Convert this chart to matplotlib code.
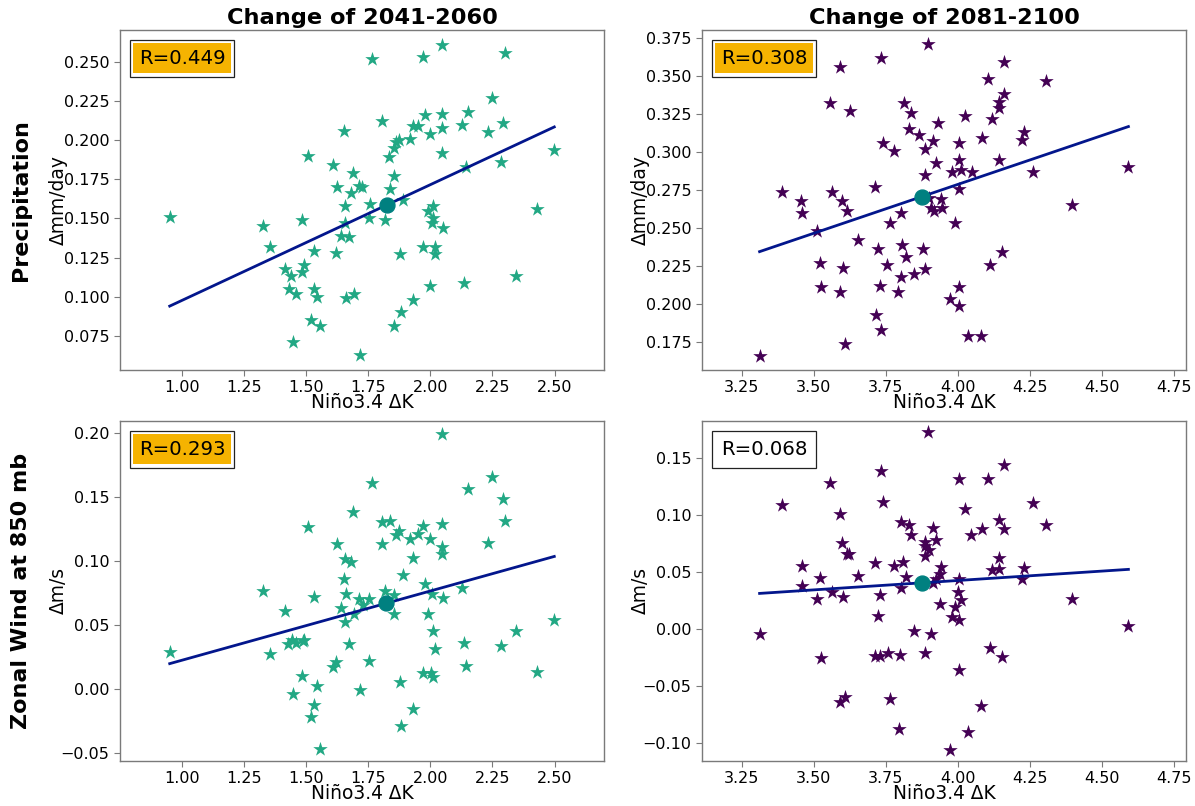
import numpy as np
import matplotlib
matplotlib.use("Agg")
import matplotlib.pyplot as plt
from matplotlib.offsetbox import AnchoredText

# ---- data: Niño3.4 warming vs. regional change, one star per model ----
# Precipitation, 2041-2060
pr_mid_x = [0.952, 1.327, 1.356, 1.417, 1.441, 1.430, 1.458, 1.447, 1.485, 1.494, 1.485, 1.533,
            1.534, 1.545, 1.522, 1.558, 1.510, 1.655, 1.608, 1.691, 1.624, 1.682, 1.715, 1.659,
            1.658, 1.642, 1.675, 1.619, 1.662, 1.694, 1.718, 1.766, 1.972, 2.046, 2.302, 2.248,
            1.806, 1.980, 2.046, 2.150, 2.128, 2.291, 2.232, 1.929, 1.952, 2.046, 1.999, 1.919,
            1.863, 1.876, 1.856, 1.834, 2.046, 2.499, 2.283, 2.144, 1.855, 1.839, 1.726, 1.758,
            1.755, 1.817, 1.892, 2.012, 1.992, 2.012, 2.006, 2.053, 2.429, 1.970, 2.019, 2.019,
            1.879, 2.347, 2.136, 1.999, 1.932, 1.883, 1.853]
pr_mid_y = [0.151, 0.145, 0.132, 0.118, 0.113, 0.105, 0.102, 0.071, 0.149, 0.120, 0.116, 0.129,
            0.105, 0.100, 0.085, 0.081, 0.190, 0.206, 0.184, 0.179, 0.170, 0.166, 0.171, 0.158,
            0.147, 0.139, 0.138, 0.128, 0.099, 0.102, 0.063, 0.252, 0.253, 0.261, 0.256, 0.227,
            0.212, 0.216, 0.217, 0.218, 0.210, 0.211, 0.205, 0.209, 0.209, 0.208, 0.204, 0.201,
            0.199, 0.200, 0.195, 0.189, 0.192, 0.194, 0.186, 0.183, 0.177, 0.169, 0.170, 0.159,
            0.150, 0.149, 0.162, 0.158, 0.155, 0.150, 0.147, 0.144, 0.156, 0.132, 0.132, 0.127,
            0.127, 0.113, 0.109, 0.107, 0.098, 0.090, 0.081]

# Precipitation, 2081-2100
pr_end_x = [3.897, 3.734, 3.590, 3.556, 3.625, 3.812, 3.837, 3.932, 3.830, 3.867, 3.913, 3.740,
            3.779, 3.885, 3.925, 3.885, 3.714, 3.391, 3.562, 3.457, 3.599, 3.458, 3.617, 3.802,
            3.764, 3.899, 3.909, 3.917, 3.942, 3.946, 3.513, 3.653, 3.722, 3.805, 3.880, 3.821,
            3.521, 3.603, 3.756, 3.850, 3.888, 3.802, 3.524, 3.590, 3.729, 3.794, 3.717, 3.732,
            3.607, 3.312, 4.161, 4.105, 4.307, 4.162, 4.145, 4.144, 4.120, 4.026, 4.229, 4.223,
            4.086, 4.003, 4.145, 4.003, 3.982, 4.013, 4.050, 4.263, 4.593, 4.006, 4.397, 3.992,
            4.155, 4.114, 4.006, 3.972, 4.006, 4.036, 4.081]
pr_end_y = [0.371, 0.362, 0.356, 0.332, 0.327, 0.332, 0.326, 0.319, 0.315, 0.311, 0.307, 0.306,
            0.301, 0.302, 0.293, 0.285, 0.277, 0.274, 0.274, 0.268, 0.268, 0.260, 0.261, 0.260,
            0.253, 0.270, 0.263, 0.261, 0.269, 0.263, 0.248, 0.242, 0.236, 0.239, 0.236, 0.231,
            0.227, 0.224, 0.226, 0.220, 0.223, 0.218, 0.211, 0.208, 0.212, 0.208, 0.193, 0.183,
            0.174, 0.166, 0.359, 0.348, 0.347, 0.338, 0.333, 0.329, 0.322, 0.324, 0.313, 0.308,
            0.309, 0.306, 0.295, 0.295, 0.287, 0.288, 0.287, 0.287, 0.290, 0.276, 0.265, 0.253,
            0.234, 0.226, 0.211, 0.203, 0.199, 0.179, 0.179]

# Zonal wind at 850 mb, 2041-2060
ua_mid_x = [0.952, 1.327, 1.356, 1.417, 1.427, 1.445, 1.458, 1.487, 1.494, 1.533, 1.510, 1.485,
            1.447, 1.545, 1.534, 1.522, 1.558, 1.691, 1.624, 1.659, 1.682, 1.655, 1.662, 1.642,
            1.659, 1.715, 1.728, 1.692, 1.675, 1.619, 1.608, 1.718, 2.046, 1.766, 2.248, 2.150,
            2.291, 2.302, 1.806, 1.839, 1.970, 2.046, 1.873, 1.863, 1.951, 1.919, 1.999, 1.806,
            2.233, 2.046, 2.046, 1.931, 1.892, 1.980, 2.128, 1.817, 1.853, 2.007, 2.053, 1.755,
            1.856, 1.992, 2.499, 2.347, 2.012, 2.019, 2.136, 2.283, 1.755, 2.144, 1.879, 1.970,
            2.003, 2.012, 2.429, 1.932, 1.883]
ua_mid_y = [0.029, 0.076, 0.027, 0.061, 0.035, 0.038, 0.036, 0.037, 0.038, 0.072, 0.126, 0.010,
            -0.004, 0.002, -0.013, -0.022, -0.047, 0.138, 0.113, 0.101, 0.099, 0.086, 0.074, 0.063,
            0.052, 0.070, 0.065, 0.058, 0.035, 0.021, 0.017, -0.001, 0.199, 0.161, 0.165, 0.156,
            0.148, 0.131, 0.130, 0.131, 0.127, 0.129, 0.123, 0.120, 0.121, 0.117, 0.117, 0.113,
            0.114, 0.111, 0.105, 0.102, 0.089, 0.082, 0.079, 0.076, 0.073, 0.074, 0.071, 0.070,
            0.058, 0.058, 0.054, 0.045, 0.045, 0.031, 0.036, 0.033, 0.022, 0.018, 0.005, 0.012,
            0.012, 0.009, 0.013, -0.016, -0.029]

# Zonal wind at 850 mb, 2081-2100
ua_end_x = [3.897, 3.734, 3.556, 3.740, 3.391, 3.590, 3.802, 3.830, 3.913, 3.837, 3.925, 3.599,
            3.885, 3.885, 3.899, 3.616, 3.624, 3.885, 3.714, 3.779, 3.811, 3.458, 3.654, 3.821,
            3.521, 3.943, 3.940, 3.925, 3.913, 3.458, 3.804, 3.562, 3.731, 3.513, 3.602, 3.939,
            3.722, 3.312, 3.849, 3.907, 3.888, 3.714, 3.731, 3.757, 3.800, 3.524, 3.607, 3.591,
            3.765, 3.795, 4.161, 4.003, 4.105, 4.263, 4.026, 4.307, 4.144, 4.162, 4.086, 4.047,
            4.144, 4.119, 4.145, 4.229, 4.223, 4.006, 4.000, 4.013, 3.992, 3.982, 4.006, 4.397,
            4.593, 4.114, 4.155, 4.006, 4.081, 4.036, 3.972]
ua_end_y = [0.173, 0.139, 0.128, 0.112, 0.109, 0.101, 0.094, 0.092, 0.089, 0.083, 0.078, 0.076,
            0.077, 0.073, 0.070, 0.066, 0.066, 0.064, 0.058, 0.056, 0.059, 0.056, 0.047, 0.046,
            0.045, 0.055, 0.049, 0.044, 0.041, 0.038, 0.036, 0.033, 0.030, 0.027, 0.028, 0.022,
            0.012, -0.004, -0.001, -0.004, -0.021, -0.023, -0.023, -0.021, -0.022, -0.025, -0.059,
            -0.064, -0.061, -0.087, 0.144, 0.132, 0.132, 0.111, 0.106, 0.092, 0.096, 0.088, 0.088,
            0.083, 0.063, 0.052, 0.053, 0.054, 0.044, 0.044, 0.033, 0.026, 0.020, 0.011, 0.008,
            0.027, 0.003, -0.016, -0.024, -0.036, -0.067, -0.090, -0.106]

r_values = ["R=0.449", "R=0.308", "R=0.293", "R=0.068"]
significant = [True, True, True, False]

col_titles = ["Change of 2041-2060", "Change of 2081-2100"]
row_titles = ["Precipitation", "Zonal Wind at 850 mb"]
y_labels = ["\u0394mm/day", "\u0394m/s"]
x_label = "Ni\u00f1o3.4 \u0394K"

xticks_mid = [1.00, 1.25, 1.50, 1.75, 2.00, 2.25, 2.50]
xticks_end = [3.25, 3.50, 3.75, 4.00, 4.25, 4.50, 4.75]
ylims = [(0.0532, 0.2704), (0.1566, 0.3803), (-0.0565, 0.2091), (-0.1154, 0.1828)]

# ---- styling ----
GREEN = "#22a884"
PURPLE = "#440154"
LINE = "#03168c"
MEAN = "#008080"
HILITE = "#f5b301"
SPINE = "#7a7a7a"

W, H = 1195, 806
fig = plt.figure(figsize=(W / 100, H / 100), dpi=100)


def axes_at(x0, y0, x1, y1):
    return fig.add_axes([x0 / W, 1 - y1 / H, (x1 - x0) / W, (y1 - y0) / H])


def panel(ax, x, y, color, r_text, hilite, ylabel, xticks, ylim):
    x = np.asarray(x, dtype=float)
    y = np.asarray(y, dtype=float)
    ax.scatter(x, y, marker="*", s=120, color=color, linewidths=0, zorder=2)
    slope, icpt = np.polyfit(x, y, 1)
    xs = np.array([x.min(), x.max()])
    ax.plot(xs, slope * xs + icpt, color=LINE, lw=2.0, zorder=3)
    ax.scatter([x.mean()], [y.mean()], s=115, color=MEAN, zorder=4)
    ax.set_xlim(x.min() - 0.2, x.max() + 0.2)
    ax.set_ylim(*ylim)
    ax.set_xticks(xticks)
    ax.set_xticklabels([f"{t:.2f}" for t in xticks])
    ax.set_xlabel(x_label, fontsize=13.4, labelpad=-1.5)
    ax.set_ylabel(ylabel, fontsize=13.4)
    ax.yaxis.label.set_va("center")
    ax.yaxis.set_label_coords(-0.127, 0.5)
    ax.tick_params(labelsize=11.5, color=SPINE, labelcolor="black", length=4)
    for sp in ax.spines.values():
        sp.set_color(SPINE)
        sp.set_linewidth(1.0)

    prop = dict(size=14.2)
    if hilite:
        prop["bbox"] = dict(boxstyle="square,pad=0.28", facecolor=HILITE, edgecolor="none")
    at = AnchoredText(r_text, loc="upper left", prop=prop, pad=0.45, borderpad=0.5,
                      frameon=True)
    at.patch.set_boxstyle("square,pad=0")
    at.patch.set_edgecolor("#222222")
    at.patch.set_linewidth(0.9)
    ax.add_artist(at)


ax1 = axes_at(120, 30, 604, 370)
ax2 = axes_at(702, 30, 1186, 370)
ax3 = axes_at(120, 421, 604, 761)
ax4 = axes_at(702, 421, 1186, 761)

panel(ax1, pr_mid_x, pr_mid_y, GREEN, r_values[0], significant[0], y_labels[0], xticks_mid, ylims[0])
panel(ax2, pr_end_x, pr_end_y, PURPLE, r_values[1], significant[1], y_labels[0], xticks_end, ylims[1])
panel(ax3, ua_mid_x, ua_mid_y, GREEN, r_values[2], significant[2], y_labels[1], xticks_mid, ylims[2])
panel(ax4, ua_end_x, ua_end_y, PURPLE, r_values[3], significant[3], y_labels[1], xticks_end, ylims[3])

ax1.set_title(col_titles[0], fontsize=16.2, fontweight="bold", pad=4)
ax2.set_title(col_titles[1], fontsize=16.2, fontweight="bold", pad=4)

fig.text(21 / W, 1 - 200 / H, row_titles[0], rotation=90, fontsize=16, fontweight="bold",
         ha="center", va="center")
fig.text(21 / W, 1 - 591 / H, row_titles[1], rotation=90, fontsize=16, fontweight="bold",
         ha="center", va="center")

fig.savefig("out.png", dpi=100)
